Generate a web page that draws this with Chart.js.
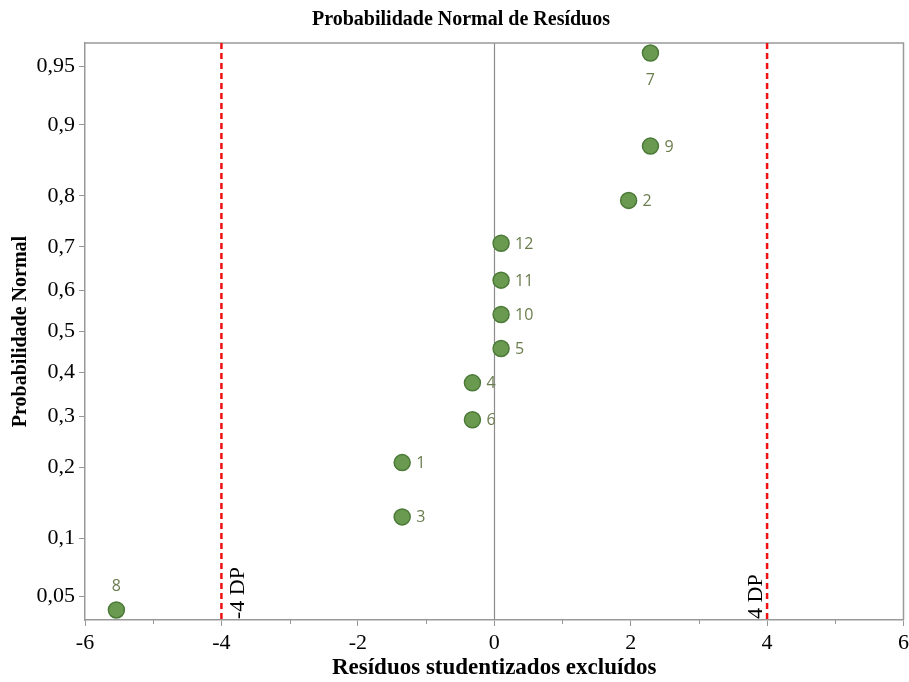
<!DOCTYPE html>
<html>
<head>
<meta charset="utf-8">
<script src="https://cdn.jsdelivr.net/npm/chart.js@4/dist/chart.umd.min.js"></script>
<style>
html,body{margin:0;padding:0;background:#fff;overflow:hidden;}
#wrap{width:909px;height:682px;overflow:hidden;}
</style>
</head>
<body>
<div id="wrap"><canvas id="c" width="913" height="682"></canvas></div>
<script>
// ---- data ----
const pointIds   = ['8','3','1','6','4','5','10','11','12','2','9','7'];
const residuals  = [-5.54,-1.35,-1.35,-0.32,-0.32,0.10,0.10,0.10,0.10,1.97,2.29,2.29];
const normalProb = [0.042,0.125,0.208,0.292,0.375,0.458,0.542,0.625,0.708,0.792,0.875,0.958];
const probTicks  = [0.05,0.1,0.2,0.3,0.4,0.5,0.6,0.7,0.8,0.9,0.95];
const refLines   = [-4, 4];
const refLabels  = ['-4 DP', '4 DP'];

// label placement (style)
const labelPlace = {'8':'above','7':'below'};

// inverse standard normal CDF (Acklam)
function probit(p){
  const a=[-3.969683028665376e+01,2.209460984245205e+02,-2.759285104469687e+02,1.383577518672690e+02,-3.066479806614716e+01,2.506628277459239e+00];
  const b=[-5.447609879822406e+01,1.615858368580409e+02,-1.556989798598866e+02,6.680131188771972e+01,-1.328068155288572e+01];
  const c=[-7.784894002430293e-03,-3.223964580411365e-01,-2.400758277161838e+00,-2.549732539343734e+00,4.374664141464968e+00,2.938163982698783e+00];
  const d=[7.784695709041462e-03,3.224671290700398e-01,2.445134137142996e+00,3.754408661907416e+00];
  const pl=0.02425, ph=1-pl; let q,r;
  if(p<pl){q=Math.sqrt(-2*Math.log(p));return (((((c[0]*q+c[1])*q+c[2])*q+c[3])*q+c[4])*q+c[5])/((((d[0]*q+d[1])*q+d[2])*q+d[3])*q+1);}
  if(p<=ph){q=p-0.5;r=q*q;return (((((a[0]*r+a[1])*r+a[2])*r+a[3])*r+a[4])*r+a[5])*q/(((((b[0]*r+b[1])*r+b[2])*r+b[3])*r+b[4])*r+1);}
  q=Math.sqrt(-2*Math.log(1-p));return -(((((c[0]*q+c[1])*q+c[2])*q+c[3])*q+c[4])*q+c[5])/((((d[0]*q+d[1])*q+d[2])*q+d[3])*q+1);
}

const points = residuals.map((x,i)=>({x:x, y:probit(normalProb[i]), id:pointIds[i]}));

const serif = "'Liberation Serif','Times New Roman',serif";

const decor = {
  id:'decor',
  beforeDatasetsDraw(chart){
    const {ctx, chartArea:ca, scales:{x,y}} = chart;
    ctx.save();
    // zero line
    ctx.strokeStyle='#8c8c8c'; ctx.lineWidth=1.2;
    const x0=Math.round(x.getPixelForValue(0))+0.5;
    ctx.beginPath(); ctx.moveTo(x0,ca.top); ctx.lineTo(x0,ca.bottom); ctx.stroke();
    // box top/right
    ctx.strokeStyle='#999'; ctx.lineWidth=1.5;
    ctx.beginPath(); ctx.moveTo(ca.left,ca.top); ctx.lineTo(ca.right,ca.top); ctx.lineTo(ca.right,ca.bottom); ctx.stroke();
    // minor ticks
    ctx.strokeStyle='#999'; ctx.lineWidth=1;
    for(let v=-5; v<=5; v+=2){
      const px=Math.round(x.getPixelForValue(v))+0.5;
      ctx.beginPath(); ctx.moveTo(px,ca.bottom); ctx.lineTo(px,ca.bottom+4); ctx.stroke();
    }
    // ref lines
    refLines.forEach((v,i)=>{
      const px=x.getPixelForValue(v);
      ctx.strokeStyle='#ee1111'; ctx.lineWidth=2.5; ctx.setLineDash([6,4]);
      ctx.beginPath(); ctx.moveTo(px,ca.top); ctx.lineTo(px,ca.bottom); ctx.stroke();
      ctx.setLineDash([]);
      ctx.save();
      ctx.translate(v<0 ? px+23 : px-5, ca.bottom-1);
      ctx.rotate(-Math.PI/2);
      ctx.fillStyle='#000'; ctx.font='22px '+serif; ctx.textAlign='left'; ctx.textBaseline='alphabetic';
      ctx.fillText(refLabels[i],0,0);
      ctx.restore();
    });
    ctx.restore();
  },
  afterDatasetsDraw(chart){
    const {ctx, scales:{x,y}} = chart;
    ctx.save();
    ctx.fillStyle='#6b7d4e'; ctx.font="16px 'Open Sans',sans-serif";
    points.forEach(p=>{
      const px=x.getPixelForValue(p.x), py=y.getPixelForValue(p.y);
      const place=labelPlace[p.id]||'right';
      if(place==='right'){ctx.textAlign='left';ctx.textBaseline='middle';ctx.fillText(p.id,px+14,py+1);}
      else if(place==='above'){ctx.textAlign='center';ctx.textBaseline='middle';ctx.fillText(p.id,px,py-24);}
      else {ctx.textAlign='center';ctx.textBaseline='middle';ctx.fillText(p.id,px,py+27);}
    });
    ctx.restore();
  }
};

new Chart(document.getElementById('c'),{
  type:'scatter',
  data:{datasets:[{
    data:points,
    backgroundColor:'#6a9a50',
    borderColor:'#4c7a38',
    borderWidth:1.5,
    pointRadius:8,
    pointHoverRadius:8
  }]},
  options:{
    responsive:false, animation:false, devicePixelRatio:1,
    layout:{padding:{left:9,right:0,top:0,bottom:0}},
    plugins:{
      legend:{display:false}, tooltip:{enabled:false},
      title:{display:true,text:'Probabilidade Normal de Resíduos',color:'#000',
        font:{family:serif,size:20,weight:'bold'},padding:{top:8,bottom:11}}
    },
    scales:{
      x:{type:'linear',min:-6,max:6,
        ticks:{stepSize:2,color:'#000',font:{family:serif,size:22},padding:4},
        grid:{drawOnChartArea:false,drawTicks:true,tickLength:6,color:'#999'},
        border:{color:'#999',width:1.5},
        title:{display:true,text:'Resíduos studentizados excluídos',color:'#000',
          font:{family:serif,size:23,weight:'bold'},padding:{top:0,bottom:0}},
        afterFit(s){s.height=62;}
      },
      y:{type:'linear',min:-1.79,max:1.79,
        afterBuildTicks(s){s.ticks=probTicks.map(p=>({value:probit(p)}));},
        ticks:{color:'#000',font:{family:serif,size:22},padding:4,
          callback:(v)=>{let best=probTicks[0];probTicks.forEach(p=>{if(Math.abs(probit(p)-v)<Math.abs(probit(best)-v))best=p;});return String(best).replace('.',',');}},
        grid:{drawOnChartArea:false,drawTicks:true,tickLength:6,color:'#999'},
        border:{color:'#999',width:1.5},
        title:{display:true,text:'Probabilidade Normal',color:'#000',
          font:{family:serif,size:20,weight:'bold'},padding:{top:0,bottom:4}},
        afterFit(s){s.width=76;}
      }
    }
  },
  plugins:[decor]
});
</script>
</body>
</html>
